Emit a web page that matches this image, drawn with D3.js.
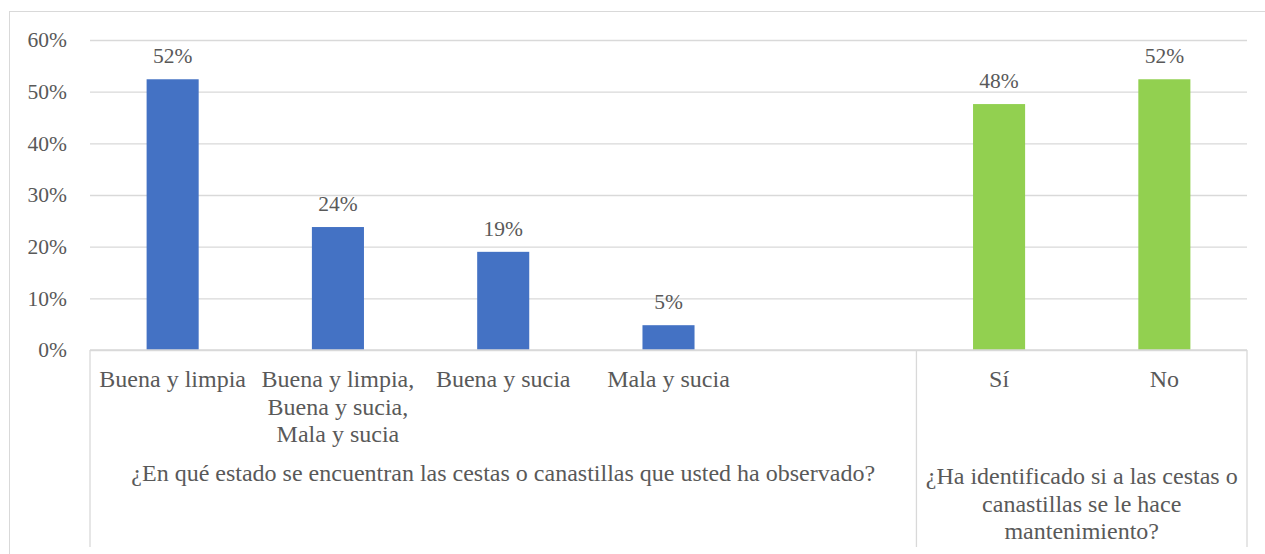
<!DOCTYPE html>
<html>
<head>
<meta charset="utf-8">
<script src="https://cdn.jsdelivr.net/npm/d3@7"></script>
<style>
  body { margin: 0; background: #fff; }
  text { font-family: "Liberation Serif", "Times New Roman", serif; fill: #595959; }
</style>
</head>
<body>
<div id="vis"></div>
<script>
// Chart data
const GROUP1_LABEL = "¿En qué estado se encuentran las cestas o canastillas que usted ha observado?";
const GROUP1_CATS = ["Buena y limpia", "Buena y limpia,|Buena y sucia,|Mala y sucia", "Buena y sucia", "Mala y sucia", ""];
const GROUP1_VALUES = [0.524, 0.238, 0.190, 0.048, null];
const GROUP2_LABEL = "¿Ha identificado si a las cestas o|canastillas se le hace|mantenimiento?";
const GROUP2_CATS = ["Sí", "No"];
const GROUP2_VALUES = [0.476, 0.524];
const Y_TICKS = [0, 0.1, 0.2, 0.3, 0.4, 0.5, 0.6];

// Constants for the visualization
const FRAME_WIDTH = 1265;
const FRAME_HEIGHT = 554;
const MARGINS = {left: 90, right: 18, top: 40, bottom: 204};
const VIS_WIDTH = FRAME_WIDTH - MARGINS.left - MARGINS.right;
const VIS_HEIGHT = FRAME_HEIGHT - MARGINS.top - MARGINS.bottom;
const FONT = "21.5px";
const CAT_FONT = "24px";
const GRID = "#d9d9d9";

// build rows for the band scale (one slot per category, groups in order)
const ROWS = [];
GROUP1_CATS.forEach((c, i) => ROWS.push({key: "g1-" + i, cat: c, value: GROUP1_VALUES[i], group: 1}));
GROUP2_CATS.forEach((c, i) => ROWS.push({key: "g2-" + i, cat: c, value: GROUP2_VALUES[i], group: 2}));

const X_SCALE = d3.scaleBand()
    .domain(ROWS.map(d => d.key))
    .range([0, VIS_WIDTH])
    .paddingInner(0.685)
    .paddingOuter(0.3425);
const Y_SCALE = d3.scaleLinear()
    .domain([0, 0.6])
    .range([VIS_HEIGHT, 0]);

const FRAME = d3.select("#vis")
    .append("svg")
    .attr("width", FRAME_WIDTH)
    .attr("height", FRAME_HEIGHT);

// outer chart border
FRAME.append("rect")
    .attr("x", 9.5).attr("y", 11.5)
    .attr("width", FRAME_WIDTH).attr("height", FRAME_HEIGHT)
    .attr("fill", "none").attr("stroke", GRID);

const G = FRAME.append("g")
    .attr("transform", "translate(" + MARGINS.left + "," + MARGINS.top + ")");

// gridlines + y tick labels
const yAxis = G.append("g")
    .call(d3.axisLeft(Y_SCALE).tickValues(Y_TICKS).tickFormat(d3.format(".0%")).tickSize(-VIS_WIDTH).tickPadding(23));
yAxis.select(".domain").remove();
yAxis.selectAll("line").attr("stroke", GRID).attr("stroke-width", 1.3);
yAxis.selectAll("text").attr("font-size", FONT).attr("fill", "#595959");

// bars
G.selectAll(".bar")
    .data(ROWS.filter(d => d.value !== null))
    .enter()
    .append("rect")
    .attr("class", "bar")
    .attr("x", d => X_SCALE(d.key))
    .attr("width", X_SCALE.bandwidth())
    .attr("y", d => Y_SCALE(d.value))
    .attr("height", d => VIS_HEIGHT - Y_SCALE(d.value))
    .attr("fill", d => d.group === 1 ? "#4472c4" : "#92d050");

// value labels
G.selectAll(".val")
    .data(ROWS.filter(d => d.value !== null))
    .enter()
    .append("text")
    .attr("x", d => X_SCALE(d.key) + X_SCALE.bandwidth() / 2)
    .attr("y", d => Y_SCALE(d.value) - 16)
    .attr("text-anchor", "middle")
    .attr("font-size", FONT)
    .text(d => d3.format(".0%")(d.value));

// category axis (multi-level)
const step = X_SCALE.step();
const g1End = GROUP1_CATS.length * step;
const axisG = G.append("g").attr("transform", "translate(0," + VIS_HEIGHT + ")");
axisG.append("line").attr("x1", 0).attr("x2", VIS_WIDTH).attr("y1", 0).attr("y2", 0)
    .attr("stroke", GRID).attr("stroke-width", 1.3);
[0, g1End, VIS_WIDTH].forEach(x => {
    axisG.append("line").attr("x1", x).attr("x2", x).attr("y1", 0).attr("y2", 197)
        .attr("stroke", GRID).attr("stroke-width", 1.3);
});

// category labels
ROWS.forEach(d => {
    const t = axisG.append("text")
        .attr("text-anchor", "middle")
        .attr("font-size", CAT_FONT)
        .attr("y", 37);
    d.cat.split("|").forEach((line, i) => {
        t.append("tspan")
            .attr("x", X_SCALE(d.key) + X_SCALE.bandwidth() / 2)
            .attr("dy", i === 0 ? 0 : 27.5)
            .text(line);
    });
});

// group labels
function groupLabel(label, x0, x1, y) {
    const t = axisG.append("text")
        .attr("text-anchor", "middle")
        .attr("font-size", CAT_FONT)
        .attr("y", y);
    label.split("|").forEach((line, i) => {
        t.append("tspan")
            .attr("x", (x0 + x1) / 2)
            .attr("dy", i === 0 ? 0 : 27.5)
            .text(line);
    });
}
groupLabel(GROUP1_LABEL, 0, g1End, 131);
groupLabel(GROUP2_LABEL, g1End, VIS_WIDTH, 134);
</script>
</body>
</html>
